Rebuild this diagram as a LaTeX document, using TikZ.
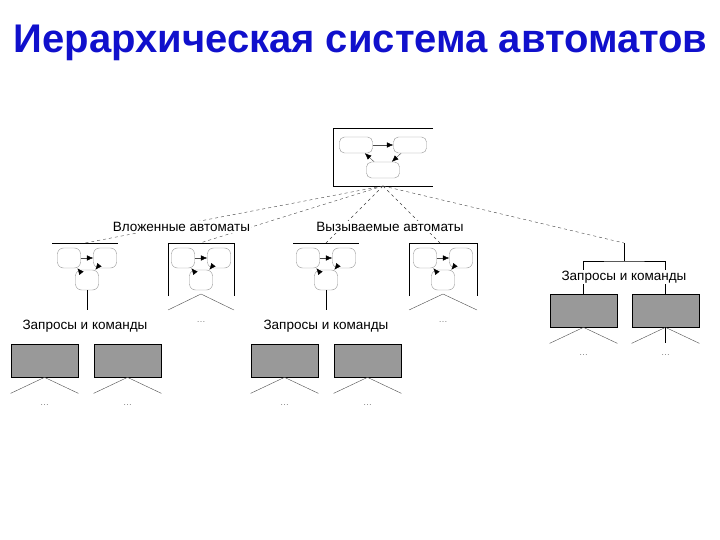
\documentclass[tikz,border=0pt]{standalone}
\usepackage{fontspec}
\setmainfont{Liberation Sans}
\usepackage{tikz}
\usetikzlibrary{arrows.meta}
\definecolor{titleblue}{RGB}{16,16,204}
\definecolor{reqgray}{RGB}{153,153,153}

% three states of an automaton: prefix, centre x, centre y, dx, dy, state style
\newcommand{\automat}[6]{%
	\node[#6] (#1l) at ({#2-#4},{#3-#5}) {};
	\node[#6] (#1r) at ({#2+#4},{#3-#5}) {};
	\node[#6] (#1b) at (#2,{#3+#5}) {};
	\draw[trans] (#1l) -- (#1r);
	\draw[trans] (#1r) -- (#1b);
	\draw[trans] (#1b) -- (#1l);
}

\begin{document}
\begin{tikzpicture}[x=1pt, y=-1pt, line width=0.7pt,
	every node/.style={font=\fontsize{13.5}{16}\selectfont},
	bigstate/.style={draw=gray!85, thin, rounded corners=5pt, minimum width=33pt, minimum height=16pt, inner sep=0pt},
	smallstate/.style={draw=gray!85, thin, rounded corners=6pt, minimum width=23pt, minimum height=20pt, inner sep=0pt},
	trans/.style={gray!60!black, thin, -{Latex[length=6.5pt,width=5.5pt,black]}},
	link/.style={dashed, black!75, thin},
	tag/.style={fill=white, inner sep=1pt},
	req/.style={draw=black, fill=reqgray, minimum width=67pt, minimum height=33pt, inner sep=0pt},
	fork/.style={gray!60!black, thin},
	dots/.style={font=\fontsize{9}{10}\selectfont, gray}]
	\useasboundingbox (0,0) rectangle (720,540);
	\node[anchor=base west, text=titleblue, font=\fontsize{40}{44}\bfseries] (title) at (10,53) {Иерархическая система автоматов};

	% root automaton
	\draw (433,128) -- (333,128) -- (333,186) -- (433,186);
	\automat{t}{383}{157.5}{27}{12.5}{bigstate}
	\coordinate (hub) at (383,186);

	% second level
	\draw (52,243) -- (118,243);
	\draw (168,296) -- (168,243) -- (234,243) -- (234,296);
	\draw (293,243) -- (359,243);
	\draw (409,296) -- (409,243) -- (477,243) -- (477,296);
	\automat{a}{87}{269}{18}{11}{smallstate}
	\automat{b}{201}{269}{18}{11}{smallstate}
	\automat{c}{326}{269}{18}{11}{smallstate}
	\automat{d}{443}{269}{18}{11}{smallstate}
	\coordinate (a) at (85,243);
	\coordinate (b) at (200,243);
	\coordinate (c) at (326,243);
	\coordinate (d) at (440,243);
	\coordinate (r) at (624,243);
	\foreach \n in {a,b,c,d,r}
		\draw[link] (hub) -- (\n);
	\node[tag] (nested) at (181.5,227) {Вложенные автоматы};
	\node[tag] (called) at (390,227) {Вызываемые автоматы};

	% leaves of the called automata
	\draw[fork] (168,310) -- (201,294) -- (234,310);
	\draw[fork] (409,310) -- (443,294) -- (477,310);
	\node[dots] (bdots) at (201,322) {\ldots};
	\node[dots] (ddots) at (443,322) {\ldots};

	% requests and commands
	\coordinate (aq) at (87,310);
	\coordinate (cq) at (326,310);
	\draw (ab) -- (aq);
	\draw (cb) -- (cq);
	\node (qa) at (85,326) {Запросы и команды};
	\node (qc) at (326,326) {Запросы и команды};
	\foreach \n/\x/\y in {a1/44.5/360.5, a2/127.5/360.5, c1/284.5/360.5, c2/367.5/360.5, r1/583.5/310.5, r2/665.5/310.5} {
		\node[req] (\n) at (\x,\y) {};
		\draw[fork] ([yshift=-16pt]\n.south west) -- (\n.south) -- ([yshift=-16pt]\n.south east);
		\node[dots] (\n dots) at ([yshift=-28pt]\n.south) {\ldots};
	}
	\coordinate (rbar) at (624,261);
	\draw (r) -- (rbar);
	\draw (r1.north) |- (rbar) -| (r2.north);
	\draw (r2.south) -- ++(0,16);
	\node[tag] (qr) at (624,277) {Запросы и команды};
\end{tikzpicture}
\end{document}
